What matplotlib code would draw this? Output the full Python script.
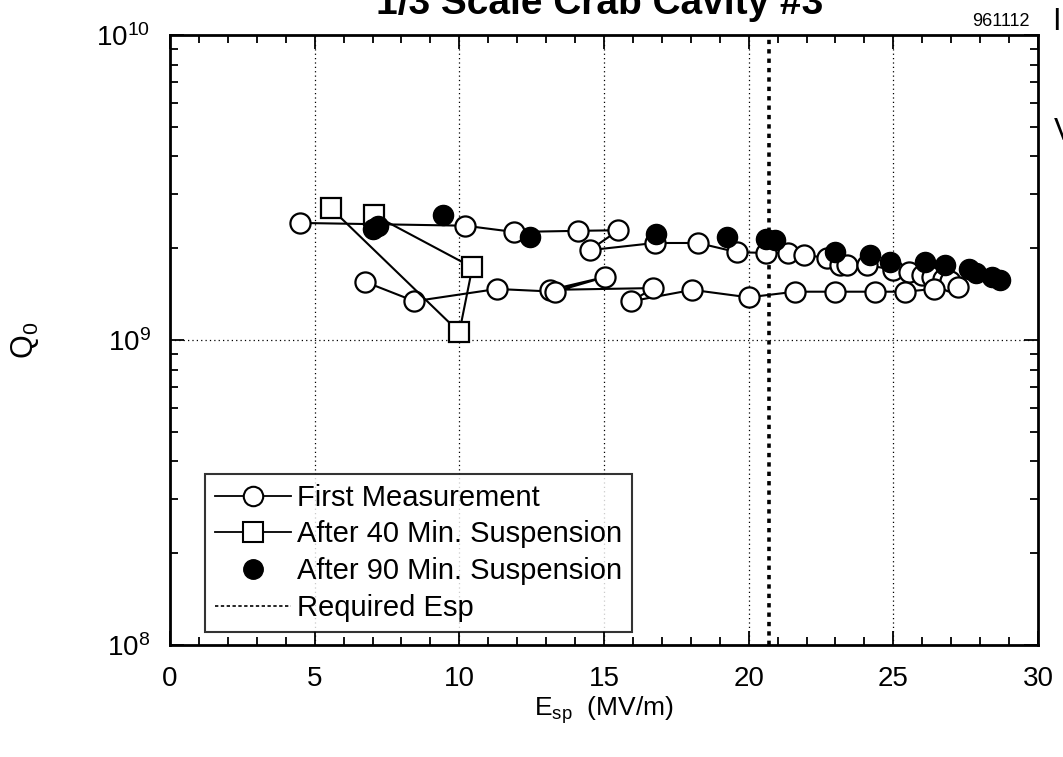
import matplotlib
matplotlib.use("Agg")
import matplotlib.pyplot as plt
from matplotlib.ticker import FixedLocator, LogLocator, NullFormatter, FixedFormatter
from matplotlib.lines import Line2D

plt.rcParams['font.family'] = ['Liberation Sans', 'DejaVu Sans']
plt.rcParams['mathtext.fontset'] = 'custom'
plt.rcParams['mathtext.rm'] = 'Liberation Sans'
plt.rcParams['mathtext.default'] = 'regular'

# ---- data ----
first_x = [4.5, 10.2, 11.9, 14.1, 15.5, 14.5, 16.75, 18.25, 19.6, 20.6, 21.35, 21.9,
           22.7, 23.15, 23.4, 24.1, 25.0, 25.55, 26.0, 26.35, 26.7, 26.95, 27.25,
           26.4, 25.4, 24.35, 23.0, 21.6, 20.0, 18.05, 15.95, 16.7, 13.15, 15.05,
           13.3, 11.3, 8.45, 6.75]
first_q = [2.42, 2.37, 2.26, 2.28, 2.29, 1.97, 2.08, 2.08, 1.94, 1.93, 1.93, 1.90,
           1.86, 1.76, 1.76, 1.76, 1.70, 1.67, 1.63, 1.61, 1.59, 1.56, 1.49,
           1.47, 1.44, 1.44, 1.44, 1.44, 1.38, 1.46, 1.34, 1.48, 1.46, 1.61,
           1.44, 1.47, 1.34, 1.55]
after40_x = [5.55, 10.0, 10.45, 7.05]
after40_q = [2.71, 1.06, 1.73, 2.57]
after90_x = [7.0, 7.2, 9.45, 12.45, 16.8, 19.25, 20.6, 20.9, 23.0, 24.2, 24.9,
             26.1, 26.8, 27.6, 27.85, 28.4, 28.7]
after90_q = [2.32, 2.36, 2.57, 2.18, 2.23, 2.18, 2.14, 2.12, 1.94, 1.90, 1.80,
             1.80, 1.76, 1.71, 1.66, 1.61, 1.57]
required_esp = 20.7
x_ticks = [0, 5, 10, 15, 20, 25, 30]
y_ticks = [1e8, 1e9, 1e10]
y_ticklabels = ['$10^8$', '$10^9$', '$10^{10}$']
scale = 1e9

fig = plt.figure(figsize=(10.63, 7.57), dpi=100)
ax = fig.add_axes([170/1063, 1-645/757, 868/1063, 610/757])

ax.set_xlim(0, 30)
ax.set_yscale('log')
ax.set_ylim(1e8, 1e10)

# grid
for gx in x_ticks[1:-1]:
    ax.axvline(gx, color='black', lw=0.9, ls=(0, (1, 2.5)), zorder=1)
ax.axhline(1e9, color='black', lw=0.9, ls=(0, (1, 2.5)), zorder=1)

# required line
ax.axvline(required_esp, color='black', lw=2.6, ls=(0, (1.2, 1.4)), zorder=1.5)

ms = 14.5
ax.plot(first_x, [q*scale for q in first_q], '-o', color='black', lw=1.5,
        mfc='white', mec='black', mew=1.6, ms=ms, zorder=3)
ax.plot(after40_x, [q*scale for q in after40_q], '-s', color='black', lw=1.5,
        mfc='white', mec='black', mew=1.6, ms=ms, zorder=3)
ax.plot(after90_x, [q*scale for q in after90_q], 'o', color='black',
        mfc='black', mec='black', ms=ms, zorder=4)

ax.xaxis.set_major_locator(FixedLocator(x_ticks))
ax.xaxis.set_minor_locator(FixedLocator([i for i in range(31) if i % 5]))
ax.yaxis.set_major_locator(FixedLocator(y_ticks))
ax.yaxis.set_major_formatter(FixedFormatter(y_ticklabels))
ax.yaxis.set_minor_locator(LogLocator(base=10, subs=range(2, 10)))
ax.yaxis.set_minor_formatter(NullFormatter())
ax.tick_params(which='both', direction='in', top=True, right=True, width=1.3, colors='black')
ax.tick_params(axis='x', which='major', length=10, labelsize=20, pad=15)
ax.tick_params(axis='y', which='major', length=10, labelsize=20, pad=14)
ax.tick_params(which='minor', length=6)
for s in ax.spines.values():
    s.set_linewidth(2.0)

ax.set_xlabel('E$_{sp}$  (MV/m)', fontsize=19, labelpad=2)
ax.set_ylabel('Q$_0$', fontsize=22, labelpad=40)

handles = [
    Line2D([], [], color='black', lw=1.3, marker='o', mfc='white', mec='black', mew=1.5, ms=14),
    Line2D([], [], color='black', lw=1.3, marker='s', mfc='white', mec='black', mew=1.5, ms=14),
    Line2D([], [], color='black', lw=0, marker='o', mfc='black', mec='black', ms=14),
    Line2D([], [], color='black', lw=1.2, ls=(0, (2, 1.5))),
]
labels = ['First Measurement', 'After 40 Min. Suspension', 'After 90 Min. Suspension', 'Required Esp']
leg = ax.legend(handles, labels, loc='lower left', bbox_to_anchor=(0.04, 0.021),
                borderaxespad=0, fontsize=21, frameon=True, fancybox=False,
                edgecolor='black', handlelength=2.6, handletextpad=0.2,
                labelspacing=0.3, borderpad=0.35)
leg.get_frame().set_linewidth(1.5)

fig.text(600/1063, 1-14/757, '1/3 Scale Crab Cavity #3', fontsize=28, fontweight='bold',
         ha='center', va='baseline')
fig.text(1030/1063, 1-22/757, '961112', fontsize=13, ha='right', va='center')
fig.text(1052/1063, 1-22/757, 'I', fontsize=22, ha='left', va='center')
fig.text(1054/1063, 1-132/757, 'V', fontsize=22, ha='left', va='center')

fig.savefig('out.png', dpi=100, facecolor='white')
